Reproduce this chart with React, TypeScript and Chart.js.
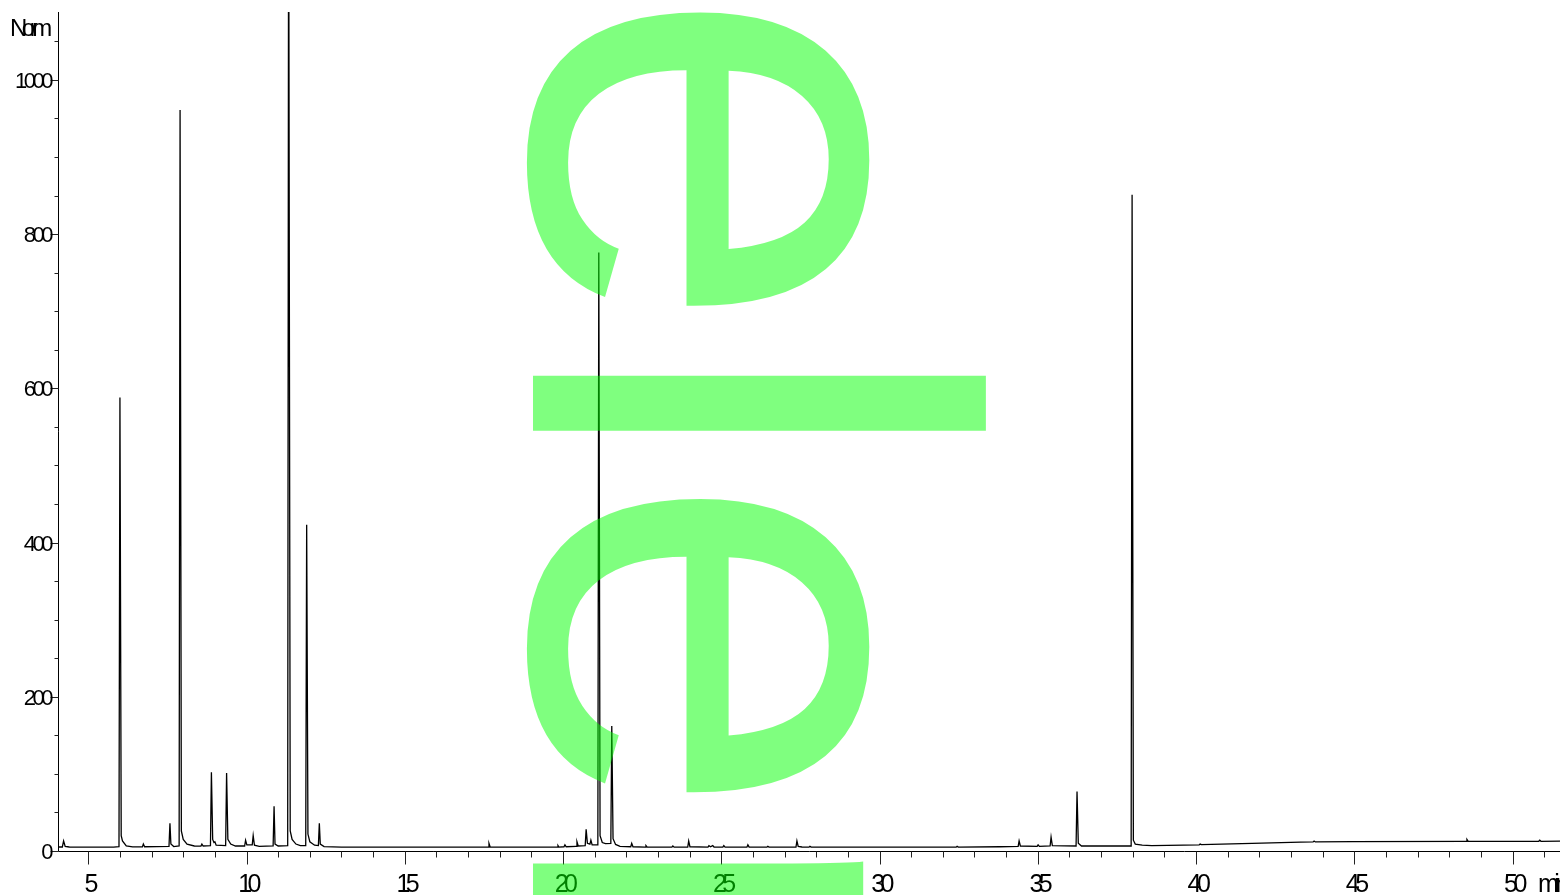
import React, { useEffect, useRef } from "react";
import { Chart, registerables } from "chart.js";

Chart.register(...registerables);

// Chromatogram trace vertices (minutes, signal)
const retentionTimes: number[] = [
  4.04, 4.18, 4.22, 4.27, 4.4, 5.8, 5.97, 6.0, 6.04, 6.08, 6.2, 6.4,
  6.71, 6.74, 6.78, 7.55, 7.58, 7.61, 7.7, 7.87, 7.9, 7.94, 8.0, 8.12, 8.35,
  8.56, 8.59, 8.63, 8.86, 8.89, 8.93, 8.97, 9.0, 9.04, 9.34, 9.37, 9.41, 9.5, 9.65,
  9.94, 9.97, 10.01, 10.18, 10.21, 10.25, 10.4, 10.84, 10.87, 10.9, 11.0,
  11.3, 11.33, 11.38, 11.44, 11.56, 11.7, 11.87, 11.9, 11.94, 12.0, 12.15,
  12.27, 12.3, 12.33, 12.45, 13.0,
  17.63, 17.66, 17.7, 19.81, 19.84, 19.87, 20.03, 20.06, 20.1, 20.41, 20.44, 20.48,
  20.7, 20.73, 20.77, 20.85, 20.88, 20.92, 21.1, 21.13, 21.17, 21.24, 21.34,
  21.51, 21.54, 21.58, 21.66, 21.8, 22.14, 22.17, 22.21, 22.59, 22.62, 22.66,
  23.44, 23.47, 23.51, 23.94, 23.97, 24.01, 24.58, 24.61, 24.66, 24.73, 24.77,
  25.05, 25.08, 25.12, 25.81, 25.84, 25.88, 26.44, 26.47, 26.51, 27.36, 27.39,
  27.43, 27.55, 27.77, 27.8, 27.84,
  32.42, 32.45, 32.49, 33.8, 34.38, 34.41, 34.45, 34.98, 35.01, 35.05, 35.39,
  35.42, 35.46, 36.21, 36.24, 36.28, 36.38, 37.95, 37.98, 38.02, 38.08, 38.3,
  38.6, 40.1, 40.13, 40.17, 41.77, 43.3, 43.7, 43.73, 43.77, 44.94, 48.53, 48.56,
  48.6, 50.83, 50.86, 50.9, 51.6,
];

const signalValues: number[] = [
  5.2, 5.2, 13, 6, 5.2, 5.0, 5.5, 588, 20, 13, 6.5, 5.3,
  5.3, 9, 5.5, 6, 36, 9, 5.8, 6.5, 961, 26, 15, 9, 6.5,
  6.3, 9, 6.5, 7, 102, 15, 11, 12, 7.5, 7, 101, 15, 9, 6.5,
  6.5, 14, 8, 8, 20, 7.5, 6, 6.5, 58, 9, 6.5,
  7, 1300, 26, 15, 9, 7, 7, 423, 22, 12, 7.5,
  7, 36, 9, 5.8, 5,
  5, 10, 5, 5, 7, 5, 5.5, 8, 5.5, 6, 12, 6.5,
  7, 28, 10, 9, 14, 8, 8, 776, 20, 11, 9.5,
  10, 162, 16, 8.5, 6, 5.5, 10, 5.5, 5, 7, 5,
  5, 6.5, 5, 5, 13, 5.5, 5, 7, 5.5, 7, 5.2,
  5, 7, 5, 5, 8, 5, 5, 6, 5, 5, 13,
  6, 5.2, 5, 6, 5,
  5, 6, 5, 5.5, 6, 13, 6.5, 6, 8, 6, 6.5,
  18, 7, 6.5, 77, 10, 6.5, 6.5, 851, 14, 9, 7.5,
  7, 8, 9, 8.2, 10, 11.5, 11.8, 13, 11.8, 12.2, 12.5, 15,
  12.5, 12.6, 14, 12.6, 12.7,
];

const xTickLabels: number[] = [5, 10, 15, 20, 25, 30, 35, 40, 45, 50];
const yTickLabels: number[] = [0, 200, 400, 600, 800, 1000];
const xMinorStep = 1;
const yMinorStep = 50;
const xRange: [number, number] = [4.043, 51.5];
const yRange: [number, number] = [0, 1088];
const yUnitLabel = "Norm";
const xUnitLabel = "min";
const watermarkText = "element";

export default function App() {
  const canvasRef = useRef<HTMLCanvasElement | null>(null);

  useEffect(() => {
    const canvas = canvasRef.current;
    if (!canvas) return;

    const points = retentionTimes.map((t, i) => ({ x: t, y: signalValues[i] }));

    const axesPlugin = {
      id: "hpAxes",
      afterDatasetsDraw(chart: any) {
        const ctx = chart.ctx as CanvasRenderingContext2D;
        const area = chart.chartArea;
        const xs = chart.scales.x;
        const ys = chart.scales.y;
        ctx.save();
        ctx.strokeStyle = "#000";
        ctx.lineWidth = 1;
        const ax = Math.round(area.left) + 0.5;
        const ay = Math.round(area.bottom) + 0.5;
        ctx.beginPath();
        ctx.moveTo(ax, area.top);
        ctx.lineTo(ax, ay);
        ctx.lineTo(area.right, ay);
        ctx.stroke();

        ctx.strokeStyle = "#222";
        for (let v = 0; v <= ys.max + 1e-9; v += yMinorStep) {
          const py = Math.round(ys.getPixelForValue(v)) + 0.5;
          const major = yTickLabels.includes(v);
          ctx.beginPath();
          ctx.moveTo(ax - (major ? 8 : 4), py);
          ctx.lineTo(ax, py);
          ctx.stroke();
        }
        const startX = Math.ceil(xs.min);
        for (let v = startX; v <= xs.max + 1e-9; v += xMinorStep) {
          const px = Math.round(xs.getPixelForValue(v)) + 0.5;
          const major = xTickLabels.includes(v);
          ctx.beginPath();
          ctx.moveTo(px, ay);
          ctx.lineTo(px, ay + (major ? 13 : 6));
          ctx.stroke();
        }

        ctx.fillStyle = "#000";
        (ctx as any).letterSpacing = "-3.5px";
        ctx.font = "22px 'Liberation Sans', Arial, sans-serif";
        ctx.textAlign = "right";
        ctx.textBaseline = "middle";
        yTickLabels.forEach((v) => {
          const py = ys.getPixelForValue(v);
          ctx.fillText(String(v), 50, py + 2);
        });

        (ctx as any).letterSpacing = "-4.5px";
        ctx.font = "25px 'Liberation Sans', Arial, sans-serif";
        ctx.textAlign = "center";
        ctx.textBaseline = "alphabetic";
        xTickLabels.forEach((v) => {
          const px = xs.getPixelForValue(v);
          ctx.fillText(String(v), px + 1, 892);
        });

        ctx.textAlign = "left";
        ctx.fillText(xUnitLabel, 1538, 892);

        (ctx as any).letterSpacing = "-5.5px";
        ctx.font = "24px 'Liberation Sans', Arial, sans-serif";
        ctx.fillText(yUnitLabel, 10, 36);
        (ctx as any).letterSpacing = "0px";
        ctx.restore();
      },
      afterDraw(chart: any) {
        const ctx = chart.ctx as CanvasRenderingContext2D;
        ctx.save();
        (ctx as any).letterSpacing = "0px";
        ctx.translate(533, -14);
        ctx.rotate(Math.PI / 2);
        ctx.font = "625px 'Liberation Sans', Arial, sans-serif";
        ctx.fillStyle = "rgba(0,255,0,0.5)";
        ctx.textAlign = "left";
        ctx.textBaseline = "alphabetic";
        ctx.fillText(watermarkText, 0, 0);
        ctx.restore();
      },
    };

    const chart = new Chart(canvas, {
      type: "line",
      data: {
        datasets: [
          {
            data: points,
            borderColor: "#000",
            borderWidth: 1.3,
            pointRadius: 0,
            tension: 0,
            fill: false,
          },
        ],
      },
      options: {
        animation: false,
        responsive: false,
        events: [],
        layout: { padding: { left: 58, top: 12, right: 0, bottom: 44 } },
        plugins: { legend: { display: false }, tooltip: { enabled: false } },
        scales: {
          x: { type: "linear", min: xRange[0], max: xRange[1], display: false },
          y: { type: "linear", min: yRange[0], max: yRange[1], display: false },
        },
      },
      plugins: [axesPlugin],
    });

    return () => chart.destroy();
  }, []);

  return (
    <div style={{ position: "fixed", left: 0, top: 0, width: 1560, height: 895, background: "#fff" }}>
      <canvas ref={canvasRef} width={1560} height={895} style={{ display: "block", width: 1560, height: 895 }} />
    </div>
  );
}
